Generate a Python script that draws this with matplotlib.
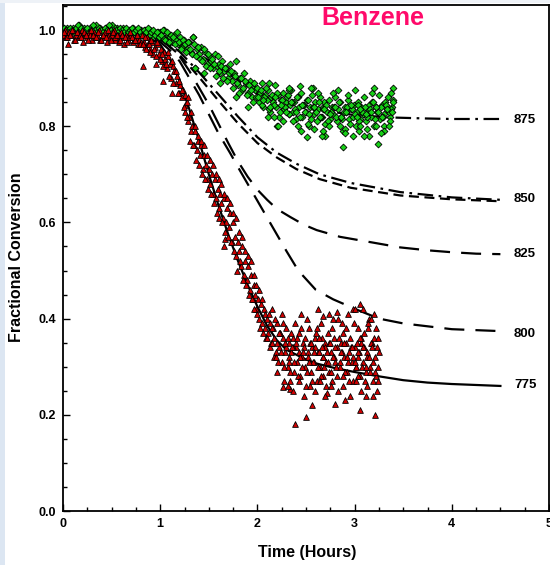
import matplotlib
matplotlib.use("Agg")
import matplotlib.pyplot as plt
from matplotlib.patches import Rectangle
from matplotlib.ticker import MultipleLocator, FormatStrFormatter

plt.rcParams['font.family'] = ['Liberation Sans', 'DejaVu Sans']

# ---------------- data: measured points (red triangles, 775 run) ----------------
red_x = [0.00,0.02,0.03,0.05,0.06,0.08,0.10,0.11,0.13,0.15,0.16,0.18,0.20,0.21,0.23,0.25,0.27,0.28,0.30,0.32,
         0.33,0.35,0.37,0.38,0.40,0.42,0.43,0.45,0.47,0.48,0.50,0.52,0.53,0.55,0.57,0.58,0.60,0.62,0.63,0.65,
         0.67,0.68,0.70,0.72,0.73,0.75,0.77,0.78,0.80,
         0.81,0.83,0.84,0.86,0.87,0.89,0.90,0.92,0.93,0.95,0.96,0.98,0.99,1.01,1.02,1.04,1.05,1.07,1.08,1.10,
         1.11,1.13,1.14,1.16,1.17,1.19,1.20,1.22,1.23,1.25,1.26,1.28,1.29,0.82,1.03,1.12,
         1.30,1.32,1.33,1.35,1.36,1.38,1.39,1.41,1.42,1.44,1.45,1.47,1.48,1.50,1.51,1.53,1.54,1.56,1.57,1.59,
         1.60,1.62,1.63,1.65,1.66,1.68,1.69,1.71,1.72,1.74,1.75,1.77,1.78,1.80,1.81,1.83,1.84,1.86,1.87,1.89,
         1.90,1.92,1.93,1.95,1.96,1.98,1.99,2.01,2.02,2.04,2.05,2.07,2.08,1.66,1.67,
         2.10,2.11,2.13,2.14,2.16,2.17,2.19,2.20,2.22,2.23,2.25,2.26,2.28,2.29,2.31,2.32,2.34,2.35,2.37,2.38,
         2.40,2.41,2.43,2.44,2.46,2.47,2.49,2.50,2.52,2.53,2.55,2.56,2.58,2.59,2.61,2.62,2.64,2.65,2.67,2.68,
         2.70,2.71,2.73,2.74,2.76,2.77,2.79,2.80,2.82,2.83,2.85,2.86,2.88,2.89,2.91,2.92,2.94,2.95,2.97,2.98,
         3.00,3.01,3.03,3.04,3.06,3.07,3.09,3.10,3.12,3.13,3.15,3.16,3.18,3.19,3.21,3.22,3.24,
         2.39,2.50,2.80,3.06,3.21,2.26,2.34,2.72,2.56,3.06,2.82,2.67,2.98,3.20,2.15,3.12,2.90,3.23]
red_y = [0.990,1.000,0.985,0.970,0.995,0.990,1.000,0.980,0.990,0.995,0.985,0.990,1.000,0.975,0.990,0.985,0.995,0.990,0.980,0.995,
         0.985,0.990,1.000,0.980,0.985,0.990,0.995,0.975,0.990,0.985,0.990,1.000,0.980,0.985,0.990,0.975,0.995,0.985,0.970,0.990,
         0.980,0.985,0.990,0.975,0.980,0.985,0.970,0.980,0.975,
         0.990,0.975,0.965,0.985,0.970,0.980,0.960,0.975,0.950,0.965,0.930,0.970,0.950,0.960,0.935,0.955,0.940,0.920,0.945,0.930,
         0.900,0.925,0.915,0.890,0.905,0.870,0.885,0.860,0.875,0.845,0.830,0.850,0.810,0.925,0.895,0.870,
         0.820,0.790,0.800,0.760,0.790,0.750,0.770,0.740,0.760,0.710,0.740,0.720,0.690,0.710,0.680,0.700,0.660,0.690,0.650,0.670,
         0.630,0.660,0.640,0.610,0.650,0.600,0.630,0.590,0.620,0.560,0.600,0.570,0.530,0.560,0.540,0.510,0.550,0.490,0.520,0.480,
         0.510,0.460,0.490,0.440,0.470,0.450,0.420,0.440,0.400,0.430,0.390,0.420,0.380,0.550,0.565,
         0.400,0.370,0.390,0.350,0.380,0.360,0.330,0.390,0.340,0.370,0.310,0.360,0.330,0.380,0.300,0.350,0.270,0.330,0.360,0.290,
         0.340,0.310,0.370,0.280,0.320,0.350,0.300,0.260,0.330,0.380,0.290,0.340,0.310,0.360,0.270,0.330,0.300,0.390,0.320,0.280,
         0.350,0.310,0.370,0.290,0.330,0.270,0.360,0.310,0.340,0.400,0.300,0.350,0.260,0.320,0.380,0.290,0.330,0.360,0.310,0.270,
         0.340,0.300,0.380,0.320,0.280,0.350,0.310,0.370,0.290,0.330,0.400,0.300,0.350,0.270,0.320,0.380,0.300,
         0.180,0.195,0.222,0.210,0.200,0.258,0.253,0.245,0.220,0.430,0.414,0.405,0.420,0.410,0.420,0.240,0.230,0.250]

red2_x = [0.01,0.04,0.07,0.09,0.12,0.14,0.17,0.19,0.22,0.24,0.26,0.29,0.31,0.34,0.36,0.39,0.41,0.44,0.46,0.49,
          0.51,0.54,0.56,0.59,0.61,0.64,0.66,0.69,0.71,0.74,0.76,0.79,
          0.82,0.84,0.85,0.88,0.90,0.91,0.94,0.96,0.97,1.00,1.02,1.03,1.06,1.08,1.09,1.12,1.13,1.16,1.18,1.19,
          1.22,1.24,1.25,1.28,1.29,
          1.31,1.32,1.34,1.36,1.37,1.39,1.40,1.42,1.43,1.45,1.46,1.48,1.49,1.51,1.52,1.54,1.55,1.57,1.58,1.60,
          1.61,1.63,1.64,1.66,1.67,1.69,1.70,1.72,1.73,1.75,1.76,1.78,1.79,1.81,1.82,1.84,1.85,1.87,1.88,1.90,
          1.91,1.93,1.94,1.96,1.97,1.99,2.00,2.02,2.03,2.05,2.06,2.08,2.09]
red2_y = [0.995,0.985,0.990,1.000,0.980,0.995,0.990,0.985,0.995,0.990,0.980,1.000,0.990,0.985,0.995,0.980,0.990,0.985,1.000,0.980,
          0.995,0.985,0.990,0.980,0.990,0.985,0.975,0.995,0.985,0.980,0.990,0.970,
          0.970,0.985,0.960,0.970,0.955,0.980,0.960,0.945,0.975,0.940,0.950,0.925,0.930,0.955,0.905,0.935,0.890,0.915,0.870,0.895,
          0.875,0.840,0.865,0.820,0.860,
          0.770,0.830,0.760,0.800,0.730,0.780,0.720,0.770,0.700,0.760,0.690,0.740,0.670,0.730,0.660,0.720,0.640,0.700,0.620,0.690,
          0.610,0.680,0.600,0.660,0.580,0.650,0.570,0.640,0.560,0.620,0.540,0.610,0.500,0.580,0.520,0.570,0.480,0.540,0.470,0.530,
          0.450,0.520,0.440,0.490,0.420,0.470,0.410,0.460,0.380,0.440,0.370,0.410,0.360]

red3_x = [2.10,2.12,2.13,2.15,2.17,2.18,2.20,2.21,2.23,2.24,2.26,2.27,2.29,2.31,2.32,2.34,2.35,2.37,2.38,2.40,
          2.42,2.43,2.45,2.46,2.48,2.49,2.51,2.52,2.54,2.56,2.57,2.59,2.60,2.62,2.63,2.65,2.66,2.68,2.70,2.71,
          2.73,2.74,2.76,2.77,2.79,2.80,2.82,2.84,2.85,2.87,2.88,2.90,2.91,2.93,2.94,2.96,2.98,2.99,3.01,3.02,
          3.04,3.05,3.07,3.08,3.10,3.11,3.13,3.14,3.16,3.17,3.19,3.20,3.22,3.23,3.25,
          2.15,2.19,2.22,2.28,2.33,2.36,2.41,2.44,2.47,2.53,2.55,2.58,2.63,2.66,2.69,2.72,2.75,2.78,2.81,2.86,
          2.89,2.92,2.97,3.00,3.03,3.06,3.09,3.12,3.15,3.18,3.21,3.24,2.25,2.39,2.51,2.61,2.74,2.87,3.00,3.14]
red3_y = [0.36,0.41,0.34,0.38,0.32,0.40,0.35,0.31,0.37,0.33,0.39,0.30,0.34,0.36,0.32,0.29,0.37,0.34,0.31,0.35,
          0.28,0.33,0.38,0.30,0.34,0.36,0.29,0.32,0.35,0.27,0.31,0.34,0.37,0.30,0.33,0.28,0.36,0.32,0.34,0.26,
          0.31,0.35,0.29,0.38,0.32,0.34,0.28,0.36,0.31,0.33,0.37,0.29,0.35,0.31,0.27,0.34,0.32,0.39,0.30,0.35,
          0.28,0.33,0.36,0.30,0.34,0.27,0.32,0.38,0.29,0.35,0.31,0.36,0.28,0.34,0.33,
          0.35,0.32,0.37,0.35,0.31,0.34,0.36,0.32,0.33,0.31,0.35,0.33,0.36,0.34,0.30,0.33,0.35,0.32,0.30,0.33,
          0.35,0.32,0.34,0.31,0.33,0.36,0.34,0.30,0.32,0.34,0.29,0.36,0.41,0.39,0.40,0.38,0.41,0.39,0.42,0.39]

red4_x = [2.20,2.27,2.31,2.37,2.43,2.48,2.54,2.59,2.64,2.70,2.76,2.83,2.88,2.95,3.01,3.07,3.13,3.19,3.24,
          2.45,2.62,2.78,2.93,3.09,3.17]
red4_y = [0.29,0.27,0.26,0.25,0.27,0.24,0.26,0.25,0.27,0.24,0.26,0.25,0.28,0.24,0.27,0.25,0.26,0.24,0.27,
          0.41,0.42,0.40,0.41,0.42,0.40]

# ---------------- data: measured points (green diamonds, 875 run) ----------------
grn_x = [0.00,0.02,0.04,0.06,0.08,0.10,0.12,0.14,0.16,0.18,0.20,0.22,0.24,0.26,0.28,0.30,0.32,0.34,0.36,0.38,
         0.40,0.42,0.44,0.46,0.48,0.50,0.52,0.54,0.56,0.58,0.60,0.62,0.64,0.66,0.68,0.70,0.72,0.74,0.76,0.78,
         0.80,0.82,0.84,0.86,0.88,0.90,0.92,0.94,0.96,0.98,
         1.00,1.02,1.04,1.06,1.08,1.10,1.12,1.14,1.16,1.18,1.20,1.22,1.24,1.26,1.28,1.30,1.32,1.34,1.36,1.38,
         1.40,1.42,1.44,1.46,1.48,1.50,1.52,1.54,1.56,1.58,1.60,1.62,1.64,1.66,1.68,1.70,1.72,1.74,1.76,1.78,
         1.80,1.82,1.84,1.86,1.88,1.90,1.92,1.94,1.96,1.98,
         2.00,2.02,2.03,2.05,2.06,2.08,2.10,2.11,2.13,2.14,2.16,2.18,2.19,2.21,2.22,2.24,2.26,2.27,2.29,2.30,
         2.32,2.34,2.35,2.37,2.38,2.40,2.42,2.43,2.45,2.46,2.48,2.50,2.51,2.53,2.54,2.56,2.58,2.59,2.61,2.62,
         2.64,2.66,2.67,2.69,2.70,2.72,2.74,2.75,2.77,2.78,2.80,2.82,2.83,2.85,2.86,2.88,2.90,2.91,2.93,2.94,
         2.96,2.98,2.99,3.01,3.02,3.04,3.06,3.07,3.09,3.10,3.12,3.14,3.15,3.17,3.18,3.20,3.22,3.23,3.25,3.26,
         3.28,3.30,3.31,3.33,3.34,3.36,3.38,3.39,
         2.51,2.88,3.24,2.44,2.57,2.83,3.39,1.36,1.34,2.20,3.05,3.30,2.70,3.15]
grn_y = [1.000,0.995,1.005,0.990,1.000,1.005,0.995,1.000,1.010,0.995,1.000,1.005,0.990,1.000,1.005,0.995,1.000,1.010,0.995,1.005,
         1.000,0.990,1.005,1.000,0.995,1.010,1.000,0.995,1.005,0.990,1.000,1.005,0.995,1.000,1.000,0.990,1.005,0.995,1.000,0.990,
         1.000,0.995,1.000,0.990,0.995,1.000,0.985,0.995,0.990,0.995,
         0.995,0.985,1.000,0.980,0.990,0.985,0.975,0.990,0.980,0.970,0.985,0.965,0.980,0.970,0.960,0.975,0.955,0.985,0.920,0.960,
         0.950,0.965,0.940,0.955,0.930,0.945,0.935,0.920,0.950,0.925,0.930,0.910,0.935,0.915,0.920,0.900,0.930,0.895,0.910,0.935,
         0.885,0.900,0.875,0.910,0.890,0.870,0.895,0.860,0.880,0.875,
         0.880,0.850,0.870,0.890,0.840,0.865,0.855,0.875,0.830,0.860,0.850,0.885,0.840,0.865,0.820,0.855,0.870,0.835,0.850,0.860,
         0.825,0.845,0.875,0.830,0.850,0.815,0.860,0.840,0.870,0.820,0.845,0.830,0.855,0.800,0.840,0.865,0.825,0.850,0.810,0.835,
         0.860,0.820,0.840,0.850,0.805,0.830,0.855,0.815,0.840,0.825,0.860,0.810,0.835,0.850,0.820,0.790,0.840,0.830,0.855,0.815,
         0.835,0.820,0.845,0.800,0.830,0.850,0.815,0.840,0.825,0.860,0.810,0.835,0.845,0.820,0.850,0.800,0.840,0.830,0.865,0.815,
         0.845,0.825,0.850,0.835,0.860,0.820,0.840,0.855,
         0.778,0.757,0.763,0.884,0.879,0.875,0.879,0.920,0.985,0.800,0.790,0.800,0.780,0.780]

grn2_x = [0.01,0.03,0.05,0.07,0.09,0.11,0.13,0.15,0.17,0.19,0.21,0.23,0.25,0.27,0.29,0.31,0.33,0.35,0.37,0.39,
          0.41,0.43,0.45,0.47,0.49,0.51,0.53,0.55,0.57,0.59,0.61,0.63,0.65,0.67,0.69,0.71,0.73,0.75,0.77,0.79,
          0.81,0.83,0.85,0.87,0.89,0.91,0.93,0.95,0.97,0.99,
          1.01,1.03,1.05,1.07,1.09,1.11,1.13,1.15,1.17,1.19,1.21,1.23,1.25,1.27,1.29,1.31,1.33,1.35,1.37,1.39,
          1.41,1.43,1.45,1.47,1.49,1.51,1.53,1.55,1.57,1.59,1.61,1.63,1.65,1.67,1.69,1.71,1.73,1.75,1.77,1.79,
          1.81,1.83,1.85,1.87,1.89,1.91,1.93,1.95,1.97,1.99]
grn2_y = [1.005,1.000,0.995,1.005,1.000,0.995,1.005,1.010,1.000,1.005,0.995,1.000,1.005,0.995,1.000,1.010,1.000,0.995,1.005,1.000,
          0.995,1.005,1.000,1.010,1.000,0.995,1.005,1.000,0.995,1.005,1.000,0.995,1.005,0.995,1.000,1.005,0.995,1.000,1.005,0.995,
          0.990,1.000,0.995,1.005,0.990,0.995,1.000,0.990,0.995,0.985,
          0.990,1.000,0.980,0.995,0.975,0.990,0.985,0.970,0.995,0.975,0.960,0.980,0.970,0.955,0.975,0.960,0.950,0.970,0.945,0.965,
          0.940,0.935,0.960,0.925,0.950,0.920,0.940,0.930,0.905,0.945,0.915,0.925,0.900,0.920,0.895,0.910,0.915,0.880,0.905,0.890,
          0.870,0.900,0.880,0.895,0.865,0.885,0.875,0.850,0.890,0.860]

grn3_x = [2.01,2.04,2.05,2.07,2.09,2.12,2.15,2.17,2.20,2.23,2.25,2.28,2.31,2.33,2.36,2.39,2.41,2.44,2.47,2.49,
          2.52,2.55,2.57,2.60,2.63,2.65,2.68,2.71,2.73,2.76,2.79,2.81,2.84,2.87,2.89,2.92,2.95,2.97,3.00,3.03,
          3.05,3.08,3.11,3.13,3.16,3.19,3.21,3.24,3.27,3.29,3.32,3.35,3.37,3.40,
          2.06,2.13,2.18,2.24,2.29,2.35,2.40,2.46,2.53,2.58,2.64,2.69,2.75,2.80,2.86,2.91,2.96,3.02,3.06,3.12,
          3.17,3.22,3.28,3.33,3.38,2.11,2.26,2.42,2.58,2.74,2.90,3.06,3.22,3.36,2.33,2.62,2.93,3.18]
grn3_y = [0.860,0.875,0.845,0.860,0.880,0.835,0.865,0.845,0.870,0.830,0.855,0.840,0.865,0.825,0.850,0.835,0.860,0.820,0.845,0.830,
          0.855,0.815,0.840,0.830,0.850,0.820,0.835,0.845,0.810,0.830,0.840,0.820,0.850,0.815,0.830,0.840,0.805,0.835,0.825,0.845,
          0.810,0.830,0.840,0.820,0.835,0.850,0.815,0.830,0.840,0.820,0.845,0.830,0.835,0.850,
          0.855,0.840,0.860,0.845,0.830,0.850,0.830,0.845,0.825,0.840,0.820,0.835,0.825,0.840,0.820,0.830,0.845,0.820,0.835,0.825,
          0.830,0.840,0.820,0.835,0.830,0.820,0.810,0.800,0.795,0.800,0.795,0.800,0.800,0.810,0.875,0.870,0.865,0.870]

grn4_x = [2.12,2.21,2.32,2.45,2.55,2.66,2.78,2.90,3.00,3.10,3.20,3.30,3.37,
          2.17,2.37,2.52,2.68,2.85,2.98,3.13,3.27,3.35,1.45,1.62,1.78,1.90]
grn4_y = [0.890,0.800,0.880,0.790,0.880,0.780,0.870,0.785,0.875,0.780,0.880,0.790,0.870,
          0.820,0.810,0.805,0.790,0.800,0.780,0.795,0.785,0.800,0.910,0.890,0.860,0.840]

# ---------------- data: model curves (temperature labels) ----------------
c775_x = [0,0.3,0.6,0.8,0.9,1.0,1.1,1.2,1.3,1.4,1.5,1.6,1.7,1.8,1.9,2.0,2.1,2.2,2.3,2.4,2.5,2.6,2.8,3.0,3.25,3.5,3.75,4.0,4.25,4.5]
c775_y = [1.0,1.0,0.998,0.99,0.982,0.97,0.94,0.895,0.835,0.77,0.70,0.635,0.575,0.52,0.47,0.425,0.385,0.355,0.335,0.325,0.315,0.307,0.297,0.289,0.28,0.272,0.267,0.264,0.262,0.26]

c800_x = [0,0.5,0.8,1.0,1.1,1.2,1.3,1.4,1.5,1.6,1.72,1.8,1.9,2.0,2.1,2.2,2.3,2.42,2.6,2.78,3.03,3.25,3.5,3.75,4.0,4.25,4.5]
c800_y = [1.0,1.0,0.992,0.975,0.958,0.935,0.90,0.865,0.825,0.785,0.744,0.715,0.68,0.645,0.61,0.575,0.54,0.50,0.46,0.44,0.418,0.40,0.39,0.384,0.378,0.376,0.374]

c825_x = [0,0.5,0.8,1.0,1.1,1.2,1.3,1.4,1.5,1.6,1.7,1.8,1.9,2.0,2.1,2.2,2.34,2.48,2.61,2.85,3.19,3.47,3.75,4.0,4.25,4.5]
c825_y = [1.0,1.0,0.993,0.98,0.965,0.945,0.915,0.88,0.845,0.805,0.765,0.727,0.695,0.668,0.647,0.628,0.611,0.595,0.584,0.57,0.558,0.548,0.542,0.538,0.535,0.534]

c850a_x = [0,0.5,0.8,1.0,1.2,1.4,1.6,1.8,2.0,2.2,2.4,2.64,2.96,3.47,4.0,4.5]
c850a_y = [1.0,1.0,0.995,0.985,0.955,0.912,0.866,0.82,0.777,0.745,0.722,0.70,0.682,0.663,0.652,0.647]
c850b_y = [1.0,1.0,0.994,0.982,0.948,0.902,0.853,0.806,0.765,0.735,0.711,0.69,0.672,0.656,0.648,0.644]

c875_x = [0,0.5,1.0,1.5,2.0,2.5,3.0,3.4,3.75,4.0,4.25,4.5]
c875_y = [1.0,1.0,0.99,0.937,0.868,0.838,0.823,0.818,0.816,0.815,0.815,0.815]

curve_labels = ['875', '850', '825', '800', '775']
label_y = [0.813, 0.649, 0.534, 0.368, 0.262]

# ---------------- figure ----------------
fig = plt.figure(figsize=(5.5, 5.65), dpi=100)
fig.patches.append(Rectangle((0, 0), 5/550, 1, transform=fig.transFigure,
                             facecolor='#dce6f2', edgecolor='none', zorder=0))
fig.patches.append(Rectangle((0, 1 - 3/565), 1, 3/565, transform=fig.transFigure,
                             facecolor='#eef2f7', edgecolor='none', zorder=0))

ax = fig.add_axes([63/550, 54/565, 486/550, 506/565])
ax.set_xlim(0, 5)
ax.set_ylim(0, 1.052)

lw = 1.6
ax.plot(c775_x, c775_y, color='black', lw=lw, ls='-', zorder=2)
ax.plot(c800_x, c800_y, color='black', lw=lw, ls=(0, (9, 5)), zorder=2)
ax.plot(c825_x, c825_y, color='black', lw=lw, ls=(0, (9, 5)), zorder=2)
ax.plot(c850a_x, c850a_y, color='black', lw=lw, ls=(0, (7, 2.5, 1.2, 2.5)), zorder=2)
ax.plot(c850a_x, c850b_y, color='black', lw=lw, ls=(0, (4.5, 2.5)), zorder=2)
ax.plot(c875_x, c875_y, color='black', lw=lw, ls=(0, (7, 2.5, 1.2, 2.5)), zorder=2)

gkw = dict(marker='D', s=12, c='#16d016', edgecolors='black', linewidths=0.6, zorder=3)
rkw = dict(marker='^', s=17, c='#d40000', edgecolors='black', linewidths=0.6, zorder=4)
for gx, gy in [(grn_x, grn_y), (grn2_x, grn2_y), (grn3_x, grn3_y), (grn4_x, grn4_y)]:
    ax.scatter(gx, gy, **gkw)
for rx, ry in [(red_x, red_y), (red2_x, red2_y), (red3_x, red3_y), (red4_x, red4_y)]:
    ax.scatter(rx, ry, **rkw)

for lab, yv in zip(curve_labels, label_y):
    ax.text(4.64, yv, lab, ha='left', va='center', fontsize=9.5, fontweight='bold')

ax.xaxis.set_major_locator(MultipleLocator(1))
ax.xaxis.set_minor_locator(MultipleLocator(0.25))
ax.yaxis.set_major_locator(MultipleLocator(0.2))
ax.yaxis.set_minor_locator(MultipleLocator(0.05))
ax.yaxis.set_major_formatter(FormatStrFormatter('%.1f'))
ax.tick_params(which='both', direction='in', top=False, right=False, width=1)
ax.tick_params(which='major', length=5, labelsize=9, pad=5)
ax.tick_params(which='minor', length=3)
for t in ax.get_xticklabels() + ax.get_yticklabels():
    t.set_fontweight('bold')
for s in ax.spines.values():
    s.set_linewidth(1.3)

fig.text(307/550, 1 - 553/565, 'Time (Hours)', ha='center', va='center', fontsize=11.5, fontweight='bold')
fig.text(17/550, 1 - 257.5/565, 'Fractional Conversion', ha='center', va='center', rotation=90,
         fontsize=11.5, fontweight='bold')
fig.text(373/550, 1 - 18/565, 'Benzene', ha='center', va='center', fontsize=18, fontweight='bold', color='#ff0a6a')

fig.savefig('out.png', dpi=100)
